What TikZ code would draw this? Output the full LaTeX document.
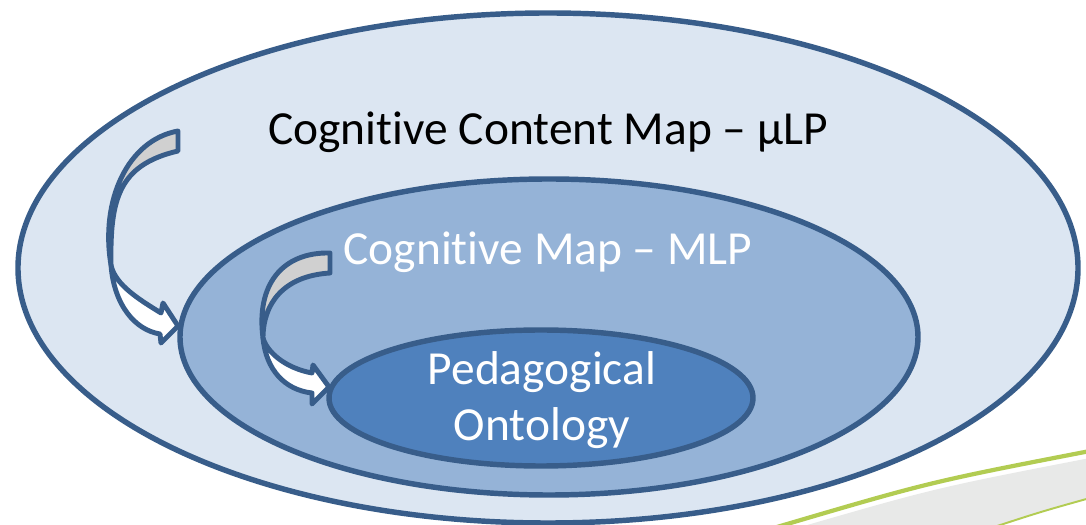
\documentclass[tikz,border=0pt]{standalone}
\usepackage{fontspec}
\setmainfont{Carlito}[Ligatures={TeX,NoCommon}]
\usetikzlibrary{shapes.geometric}
\definecolor{rim}{HTML}{385D8A}
\definecolor{outerfill}{HTML}{DCE6F2}
\definecolor{midfill}{HTML}{95B3D7}
\definecolor{innerfill}{HTML}{4F81BD}
\definecolor{backgray}{HTML}{D0D0D0}
\definecolor{swoosh}{HTML}{B2CC52}
\definecolor{swooshgray}{HTML}{E8E9E8}
\tikzset{
  layer/.style={ellipse, draw=rim, line width=3.1pt, inner sep=0pt},
  caption/.style={font=\fontsize{27}{32}\selectfont, anchor=base},
  ribbon/.style={draw=rim, line width=2.8pt, line join=round},
}
\begin{document}
\begin{tikzpicture}[x=0.2mm, y=-0.2mm]
    \useasboundingbox (0,0) rectangle (1086,525);
    \begin{scope}
        \clip (0,0) rectangle (1086,525);
        \fill[swooshgray] (790,530) .. controls (935,488) .. (1090,458) -- (1090,498) .. controls (1040,512) .. (985,530) -- cycle;
        \draw[swoosh, line width=2.4pt] (777,527) .. controls (930,482) .. (1090,451);
        \draw[swoosh, line width=1.1pt] (985,530) .. controls (1040,512) .. (1090,498);
    \end{scope}
    \node[layer, fill=outerfill, minimum width=212mm, minimum height=102mm] (outer) at (548,268) {};
    % outer ribbon arrow
    \coordinate (t1) at (111,265);
    \draw[ribbon, fill=backgray] (178,131) .. controls (128,140) and (100,200) .. (t1)
        .. controls (110,200) and (118,165) .. (178,151) -- cycle;
    \draw[ribbon, fill=white] (t1) .. controls (115,285) and (140,300) .. (161,313) -- (163,303) -- (178,326)
        -- (161,343) -- (160,334) .. controls (135,330) and (114,305) .. (t1) -- cycle;
    \node[layer, fill=midfill, minimum width=147.6mm, minimum height=63.2mm] (mid) at (549,337) {};
    % inner ribbon arrow
    \coordinate (t2) at (263,338);
    \draw[ribbon, fill=backgray] (330,253) .. controls (282,252) and (256,285) .. (t2)
        .. controls (263,305) and (282,276) .. (330,273) -- cycle;
    \draw[ribbon, fill=white] (t2) .. controls (267,352) and (285,368) .. (312,373) -- (313,365) -- (329,387)
        -- (312,404) -- (312,393) .. controls (285,390) and (266,370) .. (t2) -- cycle;
    \node[layer, fill=innerfill, minimum width=84.8mm, minimum height=27.2mm] (inner) at (541,398) {};
    \node[caption] (content) at (548,145) {Cognitive Content Map – µLP};
    \node[caption, text=white] (cogmap) at (548,265) {Cognitive Map – MLP};
    \node[caption, text=white] (peda) at (542,385) {Pedagogical};
    \node[caption, text=white] (onto) at (542,441) {Ontology};
\end{tikzpicture}
\end{document}
